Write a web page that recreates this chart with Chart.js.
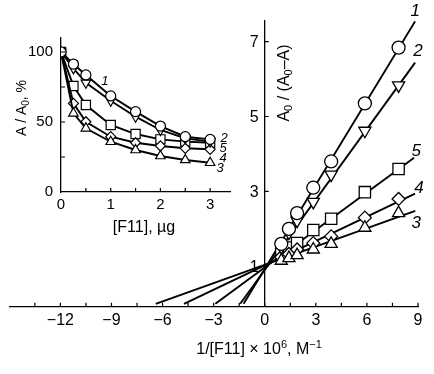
<!DOCTYPE html>
<html>
<head>
<meta charset="utf-8">
<script src="https://cdn.jsdelivr.net/npm/chart.js@4.4.0/dist/chart.umd.min.js"></script>
<style>
  html, body { margin: 0; padding: 0; background: #fff; overflow: hidden; }
  #wrap { position: relative; width: 434px; height: 374px; }
  #main, #inset { position: absolute; left: 0; top: 0; }
</style>
</head>
<body>
<div id="wrap">
  <canvas id="main" width="434" height="374"></canvas>
  <canvas id="inset" width="240" height="250"></canvas>
</div>
<script>
// inset: relative activity vs amount of F11
const massUg = [0, 0.25, 0.5, 1, 1.5, 2, 2.5, 3];
const activity1 = [100, 91.4, 83.6, 68.6, 57.4, 47.1, 39.5, 37.6];
const activity2 = [100, 88.3, 78, 65.2, 53.8, 44.3, 38.3, 36];
const activity3 = [100, 56.2, 45.5, 35.9, 30, 25.7, 22.9, 20.9];
const activity4 = [100, 63.3, 50.2, 39.5, 35.2, 32.9, 31.2, 30.5];
const activity5 = [100, 75.7, 62.1, 47.9, 41.4, 37.6, 36, 35.2];

// main: double reciprocal plot
const invConc = [0.97, 1.42, 1.9, 2.85, 3.9, 5.88, 7.86];
const ratio1 = [1.6, 2.0, 2.42, 3.1, 3.8, 5.35, 6.84];
const ratio2 = [1.52, 1.9, 2.22, 2.72, 3.45, 4.62, 5.83];
const ratio3 = [1.15, 1.22, 1.3, 1.45, 1.6, 2.03, 2.42];
const ratio4 = [1.25, 1.33, 1.45, 1.62, 1.8, 2.3, 2.8];
const ratio5 = [1.35, 1.5, 1.62, 1.97, 2.27, 2.98, 3.6];

// fitted lines: from x-intercept to right end
const fitX1 = [-1.24, 8.83], fitY1 = [0, 7.54];
const fitX2 = [-1.44, 8.83], fitY2 = [0, 6.44];
const fitX3 = [-6.4, 8.84], fitY3 = [0, 2.48];
const fitX4 = [-4.74, 8.83], fitY4 = [0, 2.94];
const fitX5 = [-2.9, 8.77], fitY5 = [0, 3.9];

// ticks
const mainXTicks = [-15, -13.5, -12, -10.5, -9, -7.5, -6, -4.5, -3, -1.5, 0, 1.5, 3, 4.5, 6, 7.5, 9];
const mainYTicks = [1, 3, 5, 7];
const insetXTicks = [0, 0.5, 1, 1.5, 2, 2.5, 3];
const insetYTicks = [0, 25, 50, 75, 100];

const FONT = '"Liberation Sans", Arial, Helvetica, sans-serif';

function pairs(xs, ys) {
  return xs.map((x, i) => ({ x: x, y: ys[i] }));
}

function minusFmt(v) {
  return v < 0 ? '\u2212' + Math.abs(v) : String(v);
}

// text with sub/superscripts, centered at (x, y)
function drawRich(ctx, parts, x, y, size, rotate, italic) {
  ctx.save();
  ctx.translate(x, y);
  if (rotate) ctx.rotate(-Math.PI / 2);
  const fontFor = (k) => (italic ? 'italic ' : '') + (k ? Math.round(size * 0.68) : size) + 'px ' + FONT;
  let w = 0;
  parts.forEach(([t, k]) => { ctx.font = fontFor(k); w += ctx.measureText(t).width; });
  let cx = -w / 2;
  ctx.fillStyle = '#000';
  ctx.textBaseline = 'alphabetic';
  ctx.textAlign = 'left';
  parts.forEach(([t, k]) => {
    ctx.font = fontFor(k);
    const dy = k === 'sub' ? size * 0.2 : k === 'sup' ? -size * 0.38 : 0;
    ctx.fillText(t, cx, size * 0.36 + dy);
    cx += ctx.measureText(t).width;
  });
  ctx.restore();
}

// inward tick marks (+ optional labels for an axis standing at x = 0)
function tickMarks(xVals, yVals, len, yLabelFont) {
  return {
    id: 'tickMarks',
    afterDraw(chart) {
      const { ctx, chartArea } = chart;
      const sx = chart.scales.x, sy = chart.scales.y;
      const yAxisPx = sx.getPixelForValue(Math.max(sx.min, 0));
      ctx.save();
      ctx.strokeStyle = '#000';
      ctx.lineWidth = 1.2;
      ctx.beginPath();
      xVals.forEach((v) => {
        if (v <= sx.min) return;
        const p = sx.getPixelForValue(v);
        ctx.moveTo(p, chartArea.bottom);
        ctx.lineTo(p, chartArea.bottom - len);
      });
      yVals.forEach((v) => {
        if (v <= sy.min) return;
        const p = sy.getPixelForValue(v);
        ctx.moveTo(yAxisPx, p);
        ctx.lineTo(yAxisPx + len, p);
      });
      ctx.stroke();
      if (yLabelFont) {
        ctx.fillStyle = '#000';
        ctx.font = yLabelFont;
        ctx.textAlign = 'right';
        ctx.textBaseline = 'middle';
        yVals.forEach((v) => ctx.fillText(minusFmt(v), yAxisPx - 6, sy.getPixelForValue(v) + 1));
      }
      ctx.restore();
    }
  };
}

// series numbers and axis titles
function annotations(tags, tagSize, titles) {
  return {
    id: 'annotations',
    afterDraw(chart) {
      const { ctx } = chart;
      const sx = chart.scales.x, sy = chart.scales.y;
      tags.forEach((t) => {
        drawRich(ctx, [[t.text, '']], sx.getPixelForValue(t.x), sy.getPixelForValue(t.y), tagSize, false, true);
      });
      titles.forEach((t) => drawRich(ctx, t.parts, t.px, t.py, t.size, t.rotate, false));
    }
  };
}

function markerSet(xs, ys, style, radius, rotation) {
  return {
    data: pairs(xs, ys),
    showLine: false,
    pointStyle: style,
    pointRadius: radius,
    pointRotation: rotation || 0,
    pointBackgroundColor: '#fff',
    pointBorderColor: '#000',
    pointBorderWidth: 1.3,
    order: 1
  };
}

function fitSet(xs, ys) {
  return {
    data: pairs(xs, ys),
    showLine: true,
    borderColor: '#000',
    borderWidth: 1.9,
    pointRadius: 0,
    order: 2
  };
}

function curveSet(ys, style, radius, rotation) {
  return {
    data: pairs(massUg, ys),
    showLine: true,
    borderColor: '#000',
    borderWidth: 1.9,
    pointStyle: style,
    pointRadius: radius,
    pointRotation: rotation || 0,
    pointBackgroundColor: '#fff',
    pointBorderColor: '#000',
    pointBorderWidth: 1.2
  };
}

const mainTags = [
  { text: '1', x: 8.83, y: 7.86 },
  { text: '2', x: 9.0, y: 6.79 },
  { text: '5', x: 8.9, y: 4.12 },
  { text: '4', x: 9.06, y: 3.13 },
  { text: '3', x: 8.89, y: 2.19 }
];

const insetTags = [
  { text: '1', x: 0.88, y: 80 },
  { text: '2', x: 3.28, y: 39.3 },
  { text: '5', x: 3.26, y: 32.1 },
  { text: '4', x: 3.26, y: 25 },
  { text: '3', x: 3.2, y: 17.9 }
];

new Chart(document.getElementById('main'), {
  type: 'scatter',
  data: {
    datasets: [
      markerSet(invConc, ratio1, 'circle', 6.5),
      markerSet(invConc, ratio2, 'triangle', 7, 180),
      markerSet(invConc, ratio3, 'triangle', 7),
      markerSet(invConc, ratio4, 'rectRot', 6.5),
      markerSet(invConc, ratio5, 'rect', 8),
      fitSet(fitX1, fitY1),
      fitSet(fitX2, fitY2),
      fitSet(fitX3, fitY3),
      fitSet(fitX4, fitY4),
      fitSet(fitX5, fitY5)
    ]
  },
  options: {
    responsive: false,
    animation: false,
    layout: { padding: { left: 5, right: 16, top: 21, bottom: 40 } },
    plugins: { legend: { display: false }, tooltip: { enabled: false } },
    scales: {
      x: {
        type: 'linear',
        min: -15,
        max: 9,
        afterBuildTicks: (s) => { s.ticks = mainXTicks.map((v) => ({ value: v })); },
        grid: { display: false, drawTicks: false },
        border: { display: true, color: '#000', width: 1.3 },
        ticks: {
          autoSkip: false,
          maxRotation: 0,
          padding: 4,
          color: '#000',
          font: { size: 16, family: FONT },
          callback: (v) => (Math.abs(v % 3) < 1e-6 && v > -15 ? minusFmt(v) : '')
        }
      },
      y: {
        type: 'linear',
        position: { x: 0 },
        min: -0.08,
        max: 7.55,
        afterBuildTicks: (s) => { s.ticks = mainYTicks.map((v) => ({ value: v })); },
        grid: { display: false, drawTicks: false },
        border: { display: true, color: '#000', width: 1.3 },
        ticks: { display: false }
      }
    }
  },
  plugins: [
    tickMarks(mainXTicks, mainYTicks, 4, '16px ' + FONT),
    annotations(mainTags, 17, [
      { parts: [['1/[F11] \u00d7 10', ''], ['6', 'sup'], [', M', ''], ['\u22121', 'sup']], px: 259, py: 348, size: 16 },
      { parts: [['A', ''], ['0', 'sub'], [' / (A', ''], ['0', 'sub'], ['\u2013A)', '']], px: 283, py: 83, size: 16, rotate: true }
    ])
  ]
});

new Chart(document.getElementById('inset'), {
  type: 'scatter',
  data: {
    datasets: [
      curveSet(activity1, 'circle', 5),
      curveSet(activity2, 'triangle', 5.5, 180),
      curveSet(activity3, 'triangle', 5.5),
      curveSet(activity4, 'rectRot', 5),
      curveSet(activity5, 'rect', 6.5)
    ]
  },
  options: {
    responsive: false,
    animation: false,
    layout: { padding: { left: 20, right: 10, top: 38, bottom: 32 } },
    plugins: { legend: { display: false }, tooltip: { enabled: false } },
    scales: {
      x: {
        type: 'linear',
        min: 0,
        max: 3.4,
        afterBuildTicks: (s) => { s.ticks = insetXTicks.map((v) => ({ value: v })); },
        grid: { display: false, drawTicks: false },
        border: { display: true, color: '#000', width: 1.3 },
        ticks: {
          autoSkip: false,
          maxRotation: 0,
          padding: 4,
          color: '#000',
          font: { size: 15, family: FONT },
          callback: (v) => (Number.isInteger(v) ? String(v) : '')
        }
      },
      y: {
        type: 'linear',
        min: 0,
        max: 110,
        afterBuildTicks: (s) => { s.ticks = insetYTicks.map((v) => ({ value: v })); },
        grid: { display: false, drawTicks: false },
        border: { display: true, color: '#000', width: 1.3 },
        ticks: {
          padding: 8,
          color: '#000',
          font: { size: 15, family: FONT },
          callback: (v) => (v % 50 === 0 ? String(v) : '')
        }
      }
    }
  },
  plugins: [
    tickMarks(insetXTicks, insetYTicks, 4),
    annotations(insetTags, 13, [
      { parts: [['[F11], \u00b5g', '']], px: 144, py: 226, size: 16 },
      { parts: [['A / A', ''], ['0', 'sub'], [', %', '']], px: 21, py: 108, size: 14, rotate: true }
    ])
  ]
});
</script>
</body>
</html>
